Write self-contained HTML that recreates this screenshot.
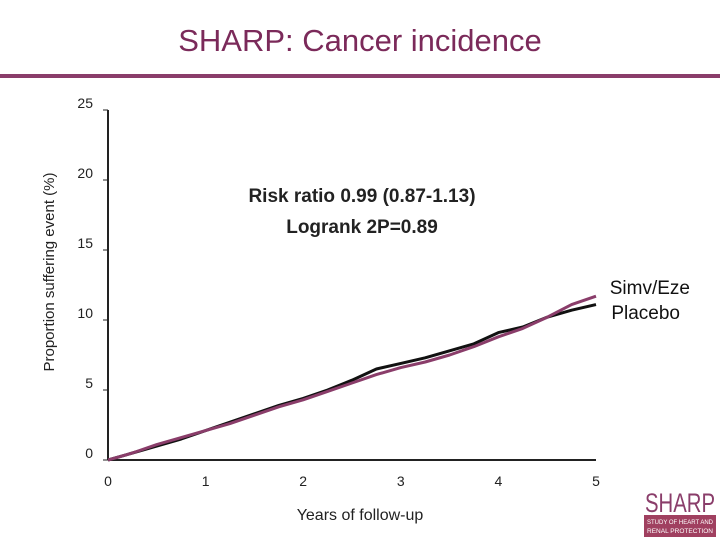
<!DOCTYPE html>
<html><head><meta charset="utf-8"><style>
body{margin:0;background:#fff;}
svg text{font-family:"Liberation Sans",sans-serif;}
</style></head><body>
<svg width="720" height="540" xmlns="http://www.w3.org/2000/svg">
<text x="360" y="51" text-anchor="middle" font-size="31" fill="#7b2a5a">SHARP: Cancer incidence</text>
<rect x="0" y="74" width="720" height="4" fill="#8a3d6a"/>
<g id="axes"></g>
<g id="series"></g>
<text x="362" y="202" text-anchor="middle" font-size="19" font-weight="bold" fill="#222">Risk ratio 0.99 (0.87-1.13)</text>
<text x="362" y="233" text-anchor="middle" font-size="19" font-weight="bold" fill="#222">Logrank 2P=0.89</text>
<text x="690" y="294" text-anchor="end" font-size="19" fill="#111">Simv/Eze</text>
<text x="680" y="319" text-anchor="end" font-size="19" fill="#111">Placebo</text>
<text x="360" y="520" text-anchor="middle" font-size="16" fill="#222">Years of follow-up</text>
<text transform="translate(54,272) rotate(-90)" text-anchor="middle" font-size="15" fill="#222">Proportion suffering event (%)</text>
<g>
<text x="645" y="512" font-family="Liberation Serif,serif" font-size="27" fill="#8a3d6a" textLength="70" lengthAdjust="spacingAndGlyphs">SHARP</text>
<rect x="644" y="515" width="72" height="22" fill="#a04060"/>
<text x="647" y="524" font-size="6" fill="#fff" textLength="66" lengthAdjust="spacingAndGlyphs">STUDY OF HEART AND</text>
<text x="647" y="533" font-size="6" fill="#fff" textLength="66" lengthAdjust="spacingAndGlyphs">RENAL PROTECTION</text>
</g>
</svg>
<script>
const years=[0,0.25,0.5,0.75,1,1.25,1.5,1.75,2,2.25,2.5,2.75,3,3.25,3.5,3.75,4,4.25,4.5,4.75,5];
const placebo=[0,0.5,1.0,1.5,2.1,2.7,3.3,3.9,4.4,5.0,5.7,6.5,6.9,7.3,7.8,8.3,9.1,9.5,10.2,10.7,11.1];
const simvEze=[0,0.5,1.1,1.6,2.1,2.6,3.2,3.8,4.3,4.9,5.5,6.1,6.6,7.0,7.5,8.1,8.8,9.4,10.2,11.1,11.7];
const xTicks=[0,1,2,3,4,5];
const yTicks=[0,5,10,15,20,25];
const NS="http://www.w3.org/2000/svg";
const X=v=>108+v*97.6, Y=v=>460-v*14;
const ax=document.getElementById('axes');
function mk(t,a,p){const e=document.createElementNS(NS,t);for(const k in a)e.setAttribute(k,a[k]);p.appendChild(e);return e;}
let l=mk('line',{x1:X(0),y1:Y(0),x2:X(5),y2:Y(0),stroke:'#222','stroke-width':2},ax);


l=mk('line',{x1:X(0),y1:Y(0),x2:X(0),y2:Y(25),stroke:'#222','stroke-width':2},ax);


xTicks.forEach(v=>{const t=mk('text',{x:X(v),y:486,'text-anchor':'middle','font-size':14,fill:'#222'},ax);t.textContent=v;

});
yTicks.forEach(v=>{mk('line',{x1:X(0),y1:Y(v),x2:X(0)-5,y2:Y(v),stroke:'#222','stroke-width':1},ax);
const t=mk('text',{x:93,y:Y(v)-2,'text-anchor':'end','font-size':14,fill:'#222'},ax);t.textContent=v;

});
const sg=document.getElementById('series');
function line(vals,col,name){const p=mk('polyline',{points:years.map((y,i)=>X(y)+','+Y(vals[i])).join(' '),fill:'none',stroke:col,'stroke-width':3,'stroke-linejoin':'round'},sg);

}
line(placebo,'#111','placebo-line');
line(simvEze,'#8a3d6a','simv-eze-line');
</script>
</body></html>
